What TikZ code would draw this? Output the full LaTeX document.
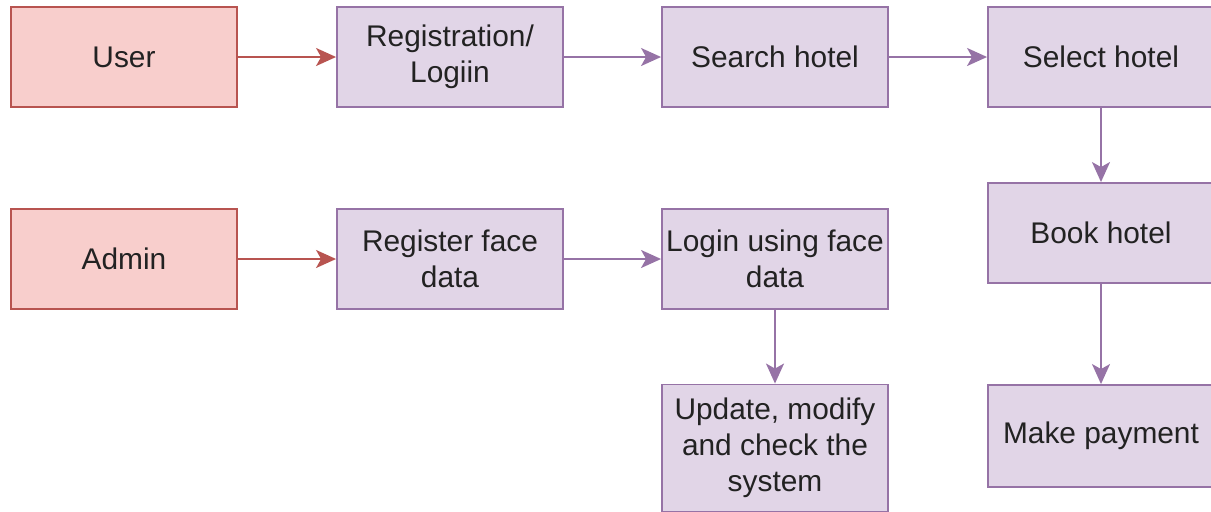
\documentclass[tikz,border=0pt]{standalone}
\usepackage{fontspec}
\setmainfont{Liberation Sans}
\usetikzlibrary{arrows.meta}
\definecolor{redfill}{HTML}{F8CECC}
\definecolor{redline}{HTML}{B85450}
\definecolor{purpfill}{HTML}{E1D5E7}
\definecolor{purpline}{HTML}{9673A6}
\definecolor{txt}{HTML}{222222}
\tikzset{
    box/.style={draw, line width=1.1pt, minimum width=4.52cm, minimum height=2cm,
        inner sep=0pt, align=center, text=txt, font=\fontsize{17}{20.5}\selectfont},
    actor/.style={box, fill=redfill, draw=redline},
    stepbox/.style={box, fill=purpfill, draw=purpline},
    redarrow/.style={draw=redline, line width=1.1pt, -{Stealth[length=0.4cm, width=0.36cm, inset=0.1cm]}},
    purparrow/.style={draw=purpline, line width=1.1pt, -{Stealth[length=0.4cm, width=0.36cm, inset=0.1cm]}}
}
\begin{document}
\begin{tikzpicture}[x=0.02cm, y=-0.02cm]
        \useasboundingbox (0, 0) rectangle (1211, 511);
        \node[actor] (user) at (124, 57) {User};
        \node[stepbox] (reg) at (450, 57) {Registration/\\Logiin};
        \node[stepbox] (search) at (775, 57) {Search hotel};
        \node[stepbox] (select) at (1101, 57) {Select hotel};
        \node[actor] (admin) at (124, 259) {Admin};
        \node[stepbox] (regface) at (450, 259) {Register face\\data};
        \node[stepbox] (loginface) at (775, 259) {Login using face\\data};
        \node[stepbox] (book) at (1101, 233) {Book hotel};
        \node[stepbox, minimum height=2.54cm] (update) at (775, 448) {Update, modify\\and check the\\system};
        \node[stepbox, minimum height=2.04cm] (payment) at (1101, 436) {Make payment};
        \draw[redarrow] (user) -- (reg);
        \draw[purparrow] (reg) -- (search);
        \draw[purparrow] (search) -- (select);
        \draw[purparrow] (select) -- (book);
        \draw[purparrow] (book) -- (payment);
        \draw[redarrow] (admin) -- (regface);
        \draw[purparrow] (regface) -- (loginface);
        \draw[purparrow] (loginface) -- (update);
    \end{tikzpicture}
\end{document}
